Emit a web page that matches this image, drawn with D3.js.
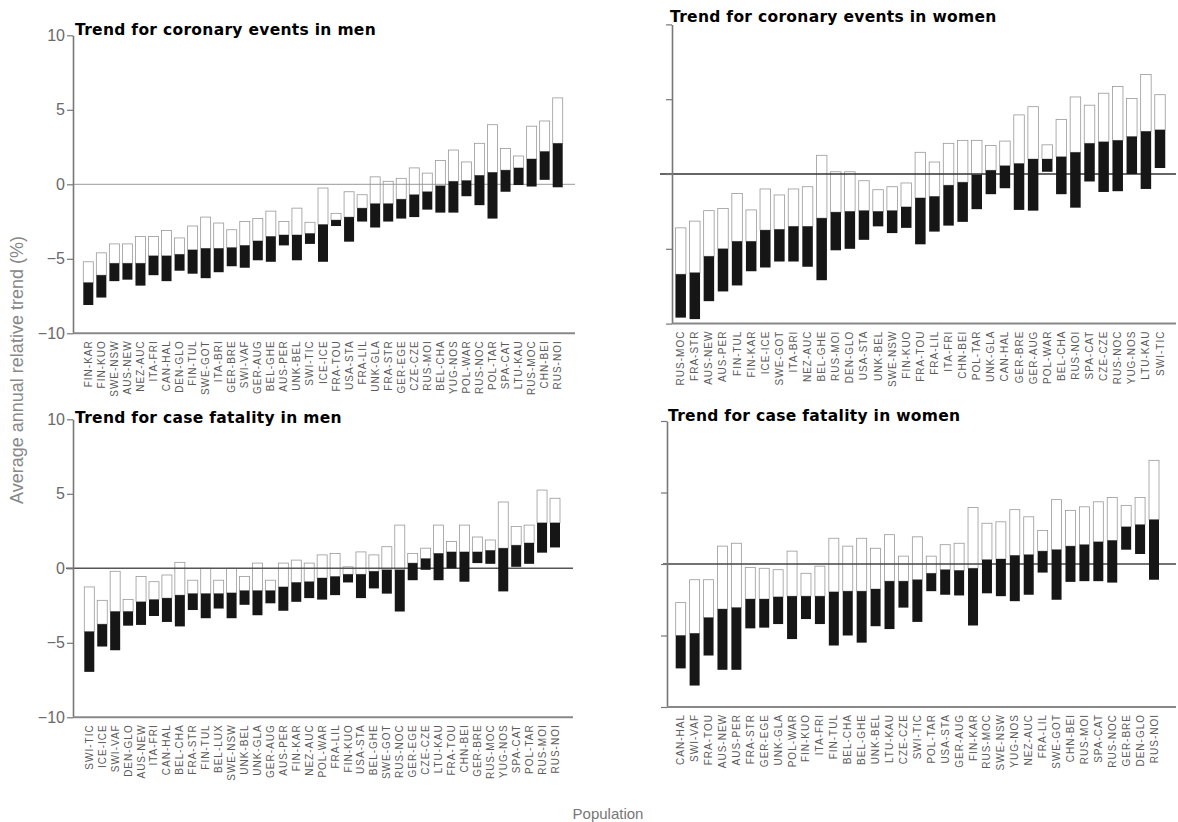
<!DOCTYPE html>
<html>
<head>
<meta charset="utf-8">
<script src="https://cdn.jsdelivr.net/npm/d3@7/dist/d3.min.js"></script>
<style>
  body { margin: 0; background: #fff; }
  svg { display: block; font-family: "Liberation Sans", Arial, sans-serif; }
</style>
</head>
<body>
<div id="chart"></div>
<script>
// ---- data: coronary events, men ----
var cemLabels = ["FIN-KAR","FIN-KUO","SWE-NSW","AUS-NEW","NEZ-AUC","ITA-FRI","CAN-HAL","DEN-GLO","FIN-TUL","SWE-GOT","ITA-BRI","GER-BRE","SWI-VAF","GER-AUG","BEL-GHE","AUS-PER","UNK-BEL","SWI-TIC","ICE-ICE","FRA-TOU","USA-STA","FRA-LIL","UNK-GLA","FRA-STR","GER-EGE","CZE-CZE","RUS-MOI","BEL-CHA","YUG-NOS","POL-WAR","RUS-NOC","POL-TAR","SPA-CAT","LTU-KAU","RUS-MOC","CHN-BEI","RUS-NOI"];
var cemEst = [-6.6,-6.1,-5.3,-5.3,-5.3,-4.8,-4.8,-4.7,-4.4,-4.3,-4.3,-4.25,-4.1,-3.8,-3.5,-3.4,-3.4,-3.3,-2.7,-2.4,-2.2,-1.6,-1.3,-1.3,-1.0,-0.7,-0.5,-0.1,0.2,0.25,0.6,0.8,0.95,1.1,1.7,2.2,2.75];
var cemLo = [-8.1,-7.6,-6.5,-6.4,-6.8,-6.1,-6.5,-5.8,-6.0,-6.3,-5.9,-5.5,-5.6,-5.1,-5.2,-4.1,-5.1,-4.0,-5.2,-2.8,-3.85,-2.5,-2.9,-2.5,-2.3,-2.2,-1.7,-1.9,-1.9,-0.8,-1.4,-2.3,-0.5,-0.05,-0.15,0.3,-0.2];
var cemHi = [-5.2,-4.6,-4.0,-4.0,-3.5,-3.5,-3.1,-3.6,-2.8,-2.2,-2.6,-3.05,-2.5,-2.3,-1.8,-2.5,-1.6,-2.55,-0.25,-1.95,-0.5,-0.7,0.5,0.2,0.4,1.1,0.75,1.6,2.3,1.5,2.75,4.0,2.4,1.9,3.9,4.25,5.8];

// ---- data: coronary events, women ----
var cewLabels = ["RUS-MOC","FRA-STR","AUS-NEW","AUS-PER","FIN-TUL","FIN-KAR","ICE-ICE","SWE-GOT","ITA-BRI","NEZ-AUC","BEL-GHE","RUS-MOI","DEN-GLO","USA-STA","UNK-BEL","SWE-NSW","FIN-KUO","FRA-TOU","FRA-LIL","ITA-FRI","CHN-BEI","POL-TAR","UNK-GLA","CAN-HAL","GER-BRE","GER-AUG","POL-WAR","BEL-CHA","RUS-NOI","SPA-CAT","CZE-CZE","RUS-NOC","YUG-NOS","LTU-KAU","SWI-TIC"];
var cewEst = [-6.7,-6.6,-5.5,-5.0,-4.5,-4.5,-3.75,-3.7,-3.5,-3.5,-2.95,-2.55,-2.5,-2.45,-2.5,-2.45,-2.2,-1.6,-1.5,-0.75,-0.55,-0.05,0.25,0.55,0.7,1.0,1.0,1.15,1.45,2.05,2.15,2.25,2.5,2.85,2.95];
var cewLo = [-9.6,-9.7,-8.5,-7.85,-7.45,-6.5,-6.25,-5.85,-5.85,-6.2,-7.1,-5.1,-5.0,-4.4,-3.5,-3.95,-3.6,-4.7,-3.85,-3.45,-3.2,-2.35,-1.35,-0.95,-2.4,-2.45,0.15,-1.35,-2.25,-0.5,-1.2,-1.15,0.0,-1.0,0.4];
var cewHi = [-3.6,-3.15,-2.45,-2.3,-1.3,-2.4,-1.0,-1.4,-1.0,-0.85,1.25,0.15,0.15,-0.45,-1.05,-0.85,-0.6,1.45,0.8,2.05,2.25,2.25,1.9,2.2,3.95,4.5,1.95,3.65,5.15,4.6,5.4,5.85,5.05,6.65,5.3];

// ---- data: case fatality, men ----
var cfmLabels = ["SWI-TIC","ICE-ICE","SWI-VAF","DEN-GLO","AUS-NEW","ITA-FRI","CAN-HAL","BEL-CHA","FRA-STR","FIN-TUL","BEL-LUX","SWE-NSW","UNK-BEL","UNK-GLA","GER-AUG","AUS-PER","FIN-KAR","NEZ-AUC","POL-WAR","FRA-LIL","FIN-KUO","USA-STA","BEL-GHE","SWE-GOT","RUS-NOC","GER-EGE","CZE-CZE","LTU-KAU","FRA-TOU","CHN-BEI","GER-BRE","RUS-MOC","YUG-NOS","SPA-CAT","POL-TAR","RUS-MOI","RUS-NOI"];
var cfmEst = [-4.25,-3.75,-2.9,-2.9,-2.25,-2.1,-2.0,-1.8,-1.7,-1.7,-1.7,-1.65,-1.5,-1.5,-1.5,-1.25,-0.95,-0.9,-0.65,-0.55,-0.4,-0.4,-0.2,-0.1,-0.1,0.35,0.65,1.0,1.1,1.1,1.1,1.2,1.35,1.55,1.7,3.05,3.05];
var cfmLo = [-6.95,-5.25,-5.5,-3.85,-3.8,-3.2,-3.6,-3.9,-2.8,-3.35,-2.7,-3.35,-2.45,-3.15,-2.35,-2.85,-2.25,-2.0,-2.1,-1.8,-0.95,-2.0,-1.35,-1.7,-2.9,-0.8,-0.1,-0.8,0.0,-0.9,0.35,0.3,-1.55,0.1,0.3,1.05,1.4];
var cfmHi = [-1.25,-2.15,-0.2,-2.1,-0.55,-0.9,-0.45,0.4,-0.8,0.0,-0.8,0.0,-0.55,0.35,-0.8,0.35,0.55,0.35,0.9,1.0,0.1,1.1,0.9,1.45,2.9,1.0,1.35,2.9,1.8,2.9,2.1,1.9,4.45,2.8,2.9,5.25,4.7];

// ---- data: case fatality, women ----
var cfwLabels = ["CAN-HAL","SWI-VAF","FRA-TOU","AUS-NEW","AUS-PER","FRA-STR","GER-EGE","UNK-GLA","POL-WAR","FIN-KUO","ITA-FRI","FIN-TUL","BEL-CHA","BEL-GHE","UNK-BEL","LTU-KAU","CZE-CZE","SWI-TIC","POL-TAR","USA-STA","GER-AUG","FIN-KAR","RUS-MOC","SWE-NSW","YUG-NOS","NEZ-AUC","FRA-LIL","SWE-GOT","CHN-BEI","RUS-MOI","SPA-CAT","RUS-NOC","GER-BRE","DEN-GLO","RUS-NOI"];
var cfwEst = [-5.0,-4.85,-3.75,-3.15,-3.05,-2.45,-2.45,-2.3,-2.25,-2.25,-2.25,-1.95,-1.9,-1.9,-1.75,-1.2,-1.2,-1.1,-0.65,-0.4,-0.45,-0.3,0.3,0.35,0.6,0.65,0.9,1.0,1.25,1.35,1.55,1.65,2.6,2.75,3.1];
var cfwLo = [-7.3,-8.5,-6.4,-7.4,-7.4,-4.5,-4.45,-4.2,-5.25,-3.85,-4.2,-5.7,-5.0,-5.5,-4.35,-4.55,-3.05,-4.05,-1.9,-2.15,-2.2,-4.3,-2.05,-2.25,-2.6,-2.15,-0.6,-2.5,-1.25,-1.2,-1.2,-1.3,1.0,0.7,-1.1];
var cfwHi = [-2.7,-1.1,-1.1,1.25,1.45,-0.25,-0.3,-0.4,0.9,-0.65,-0.15,1.8,1.25,1.8,1.1,2.05,0.55,1.9,0.55,1.35,1.45,3.95,2.85,2.95,3.8,3.3,2.35,4.5,3.75,4.0,4.35,4.65,4.1,4.65,7.25];

var yTicks = [-10, -5, 0, 5, 10];

var W = 1178, H = 822;
var svg = d3.select("#chart").append("svg")
    .attr("width", W)
    .attr("height", H);

// one panel of floating CI bars: black = lower half, white = upper half
function drawPanel(p) {
    var rows = p.labels.map(function(d, i) {
        return {label: d, est: p.est[i], lo: p.lo[i], hi: p.hi[i]};
    });

    var x = d3.scalePoint()
        .domain(p.labels)
        .range([p.x0, p.x1]);
    var y = d3.scaleLinear()
        .domain([-10, 10])
        .range([p.yBottom, p.yTop]);

    var g = svg.append("g");

    // white (upper) parts
    g.append("g").selectAll("rect")
        .data(rows).enter().append("rect")
        .attr("x", function(d) { return x(d.label) - p.bw / 2; })
        .attr("y", function(d) { return y(d.hi); })
        .attr("width", p.bw)
        .attr("height", function(d) { return y(d.est) - y(d.hi); })
        .attr("fill", "#fff")
        .attr("stroke", "#999")
        .attr("stroke-width", 0.8);

    // zero line
    g.append("line")
        .attr("x1", p.zx0).attr("x2", p.axisRight)
        .attr("y1", y(0)).attr("y2", y(0))
        .attr("stroke", p.zeroColor)
        .attr("stroke-width", p.zeroWidth);

    // black (lower) parts
    g.append("g").selectAll("rect")
        .data(rows).enter().append("rect")
        .attr("x", function(d) { return x(d.label) - p.bw / 2; })
        .attr("y", function(d) { return y(d.est); })
        .attr("width", p.bw)
        .attr("height", function(d) { return y(d.lo) - y(d.est); })
        .attr("fill", "#161616");

    // y axis
    var yAxis = d3.axisLeft(y)
        .tickValues(yTicks)
        .tickSize(6)
        .tickSizeOuter(0);
    if (!p.showTickLabels) yAxis.tickFormat("");
    var ya = g.append("g")
        .attr("transform", "translate(" + p.axisX + ",0)")
        .call(yAxis);
    ya.select(".domain").attr("stroke", "#777").attr("stroke-width", 1.6);
    ya.selectAll(".tick line").attr("stroke", "#777").attr("stroke-width", 1.2);
    ya.selectAll(".tick text")
        .attr("fill", "#6a6a6a")
        .attr("x", -8)
        .style("font-size", "16px");

    // bottom axis line
    g.append("line")
        .attr("x1", p.axisX).attr("x2", p.axisRight)
        .attr("y1", y(-10)).attr("y2", y(-10))
        .attr("stroke", "#888")
        .attr("stroke-width", 2);

    // population labels
    g.append("g").selectAll("text")
        .data(rows).enter().append("text")
        .attr("transform", function(d) {
            return "translate(" + (x(d.label) + 3.5) + "," + (y(-10) + 7) + ") rotate(-90)";
        })
        .attr("text-anchor", "end")
        .attr("fill", "#5a5a5a")
        .style("font-size", "10px")
        .style("letter-spacing", "1px")
        .text(function(d) { return d.label; });

    // title
    g.append("text")
        .attr("x", p.titleX)
        .attr("y", p.titleY)
        .attr("fill", "#000")
        .style("font-family", "'DejaVu Sans', sans-serif")
        .style("font-weight", "bold")
        .style("font-size", "15.5px")
        .style("letter-spacing", "0.3px")
        .text(p.title);
}

drawPanel({
    title: "Trend for coronary events in men", titleX: 75, titleY: 35,
    labels: cemLabels, est: cemEst, lo: cemLo, hi: cemHi,
    x0: 88.3, x1: 557.7, bw: 10,
    yTop: 35.3, yBottom: 333.3, axisX: 73, axisRight: 575, zx0: 73,
    zeroColor: "#999", zeroWidth: 1, showTickLabels: true
});
drawPanel({
    title: "Trend for coronary events in women", titleX: 670, titleY: 22,
    labels: cewLabels, est: cewEst, lo: cewLo, hi: cewHi,
    x0: 680.7, x1: 1160, bw: 10.5,
    yTop: 24.4, yBottom: 323.6, axisX: 672, axisRight: 1176, zx0: 660,
    zeroColor: "#333", zeroWidth: 1.6, showTickLabels: false
});
drawPanel({
    title: "Trend for case fatality in men", titleX: 75, titleY: 423,
    labels: cfmLabels, est: cfmEst, lo: cfmLo, hi: cfmHi,
    x0: 89.3, x1: 555, bw: 10,
    yTop: 419.3, yBottom: 717.3, axisX: 73, axisRight: 573, zx0: 66,
    zeroColor: "#555", zeroWidth: 1.5, showTickLabels: true
});
drawPanel({
    title: "Trend for case fatality in women", titleX: 668, titleY: 421,
    labels: cfwLabels, est: cfwEst, lo: cfwLo, hi: cfwHi,
    x0: 680.7, x1: 1154, bw: 10,
    yTop: 421, yBottom: 707, axisX: 667, axisRight: 1176, zx0: 663,
    zeroColor: "#444", zeroWidth: 1.5, showTickLabels: false
});

// shared axis titles
svg.append("text")
    .attr("transform", "translate(23,370) rotate(-90)")
    .attr("text-anchor", "middle")
    .attr("fill", "#888")
    .style("font-size", "18px")
    .text("Average annual relative trend (%)");

svg.append("text")
    .attr("x", 608)
    .attr("y", 819)
    .attr("text-anchor", "middle")
    .attr("fill", "#777")
    .style("font-size", "15px")
    .text("Population");
</script>
</body>
</html>
